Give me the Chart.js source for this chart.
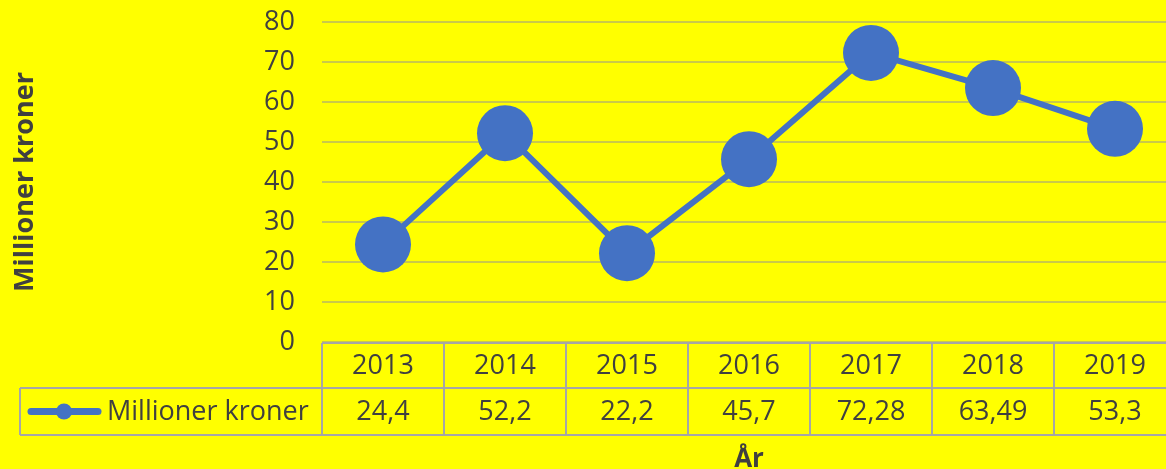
<!DOCTYPE html>
<html lang="no">
<head>
  <meta charset="UTF-8">
  <title>Millioner kroner per år</title>
  <script src="https://cdn.jsdelivr.net/npm/chart.js"></script>
  <style>
    html, body { margin: 0; padding: 0; background: #ffff00; overflow: hidden; }
    #chartCanvas { display: block; }
  </style>
</head>
<body>
  <canvas id="chartCanvas" width="1176" height="469"></canvas>
  <script>
    const years = ['2013', '2014', '2015', '2016', '2017', '2018', '2019'];
    const values = [24.4, 52.2, 22.2, 45.7, 72.28, 63.49, 53.3];
    const seriesName = 'Millioner kroner';
    const yTitle = 'Millioner kroner';
    const xTitle = 'År';

    const blue = '#4472C4';
    const textColor = '#404040';
    const tableColor = '#a6a6a6';
    const font = '"Open Sans", sans-serif';

    // data table under the plot, the way Excel draws it
    const dataTable = {
      id: 'dataTable',
      afterDraw(chart) {
        const ctx = chart.ctx;
        const xs = chart.scales.x;
        const ys = chart.scales.y;
        const area = chart.chartArea;
        const w = xs.getPixelForValue(1) - xs.getPixelForValue(0);
        const top = ys.getPixelForValue(0) + 1;
        const mid = top + 45;
        const bot = mid + 47;
        const legendLeft = 20;

        ctx.save();
        ctx.strokeStyle = tableColor;
        ctx.lineWidth = 2;
        ctx.beginPath();
        ctx.moveTo(area.left, top); ctx.lineTo(area.right, top);
        ctx.moveTo(legendLeft, mid); ctx.lineTo(area.right, mid);
        ctx.moveTo(legendLeft, bot); ctx.lineTo(area.right, bot);
        ctx.moveTo(legendLeft, mid); ctx.lineTo(legendLeft, bot);
        for (let i = 0; i <= years.length; i++) {
          const xe = Math.round(area.left + i * w);
          ctx.moveTo(xe, top); ctx.lineTo(xe, bot);
        }
        ctx.stroke();

        ctx.fillStyle = textColor;
        ctx.font = '27px ' + font;
        ctx.textAlign = 'center';
        ctx.textBaseline = 'middle';
        years.forEach((yr, i) => {
          const cx = xs.getPixelForValue(i);
          ctx.fillText(yr, cx, (top + mid) / 2 + 1);
          ctx.fillText(String(values[i]).replace('.', ','), cx, (mid + bot) / 2 + 1);
        });

        // legend key
        const ly = (mid + bot) / 2;
        ctx.strokeStyle = blue;
        ctx.lineWidth = 7;
        ctx.lineCap = 'round';
        ctx.beginPath();
        ctx.moveTo(31, ly); ctx.lineTo(98, ly);
        ctx.stroke();
        ctx.fillStyle = blue;
        ctx.beginPath();
        ctx.arc(64, ly, 8, 0, Math.PI * 2);
        ctx.fill();
        ctx.fillStyle = textColor;
        ctx.textAlign = 'left';
        ctx.fillText(seriesName, 107, ly + 1);

        // x axis title
        ctx.font = 'bold 26px ' + font;
        ctx.textAlign = 'center';
        ctx.textBaseline = 'alphabetic';
        ctx.fillText(xTitle, (area.left + area.right) / 2, bot + 32);
        ctx.restore();
      }
    };

    new Chart(document.getElementById('chartCanvas'), {
      type: 'line',
      data: {
        labels: years,
        datasets: [{
          label: seriesName,
          data: values,
          borderColor: blue,
          backgroundColor: blue,
          borderWidth: 6,
          pointRadius: 28,
          pointHoverRadius: 28,
          pointBorderWidth: 0,
          pointBackgroundColor: blue,
          tension: 0
        }]
      },
      options: {
        responsive: false,
        animation: false,
        devicePixelRatio: 1,
        layout: { autoPadding: false, padding: { top: 22, bottom: 127, left: 0, right: 0 } },
        plugins: {
          legend: { display: false },
          tooltip: { enabled: false }
        },
        scales: {
          x: {
            display: false,
            offset: true
          },
          y: {
            min: 0,
            max: 80,
            afterFit(scale) {
              scale.width = 322;
              scale.paddingTop = 0;
              scale.paddingBottom = 0;
            },
            ticks: {
              stepSize: 10,
              padding: 27,
              color: textColor,
              font: { family: font, size: 27 }
            },
            grid: {
              color: '#c9c94a',
              lineWidth: 2,
              drawTicks: false
            },
            border: { display: false },
            title: {
              display: true,
              text: yTitle,
              color: textColor,
              font: { family: font, size: 27, weight: 'bold' },
              padding: { top: 9, bottom: 0 }
            }
          }
        }
      },
      plugins: [dataTable]
    });
  </script>
</body>
</html>
